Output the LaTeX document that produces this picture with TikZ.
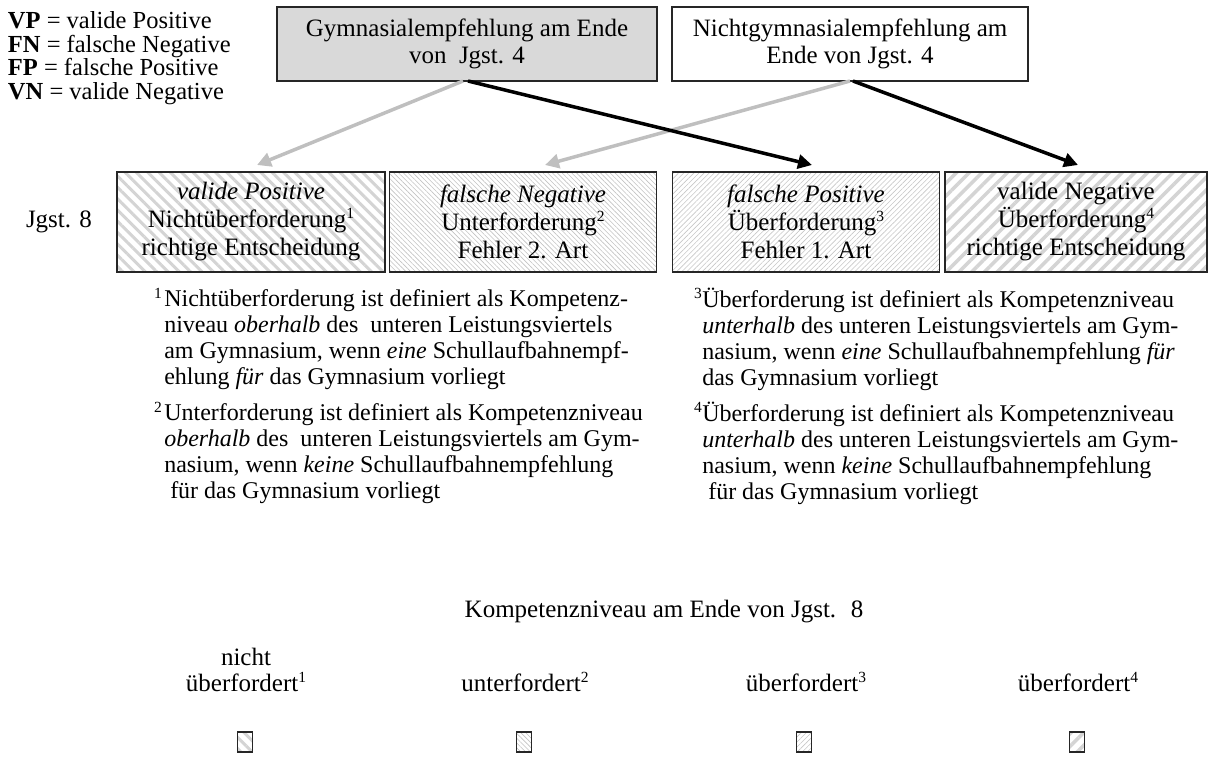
\documentclass[tikz,border=0pt]{standalone}
\usepackage{fontspec}
\setmainfont{Liberation Serif}
\usetikzlibrary{arrows.meta,patterns.meta}
\newcommand\supnum[1]{\raisebox{0.36em}{\fontsize{15.5}{15.5}\selectfont #1}}
\begin{document}
\begin{tikzpicture}[x=1pt,y=-1pt,
  every node/.style={font=\fontsize{25}{26}\selectfont, inner sep=0pt, outer sep=0pt},
  topbox/.style={draw=black!85, line width=1.2pt, minimum width=#1,
    minimum height=74pt, align=center, font=\fontsize{25}{27}\selectfont},
  outcome/.style={draw=black!85, line width=1.2pt, minimum width=#1,
    minimum height=100pt, align=center, font=\fontsize{25}{28}\selectfont},
  keybox/.style={draw=black!85, line width=1.1pt, minimum width=15pt, minimum height=20pt},
  widebk/.style={pattern={Lines[angle=-45,distance=8pt,line width=3pt]}, pattern color=black!17},
  finebk/.style={pattern={Lines[angle=-45,distance=3.4pt,line width=0.6pt]}, pattern color=black!24},
  finefw/.style={pattern={Lines[angle=45,distance=3.6pt,line width=0.6pt]}, pattern color=black!22},
  widefw/.style={pattern={Lines[angle=45,distance=9pt,line width=3.5pt]}, pattern color=black!17},
  greyarrow/.style={draw=black!25, line width=3.5pt, -{Triangle[length=14pt,width=14pt]}},
  blackarrow/.style={draw=black, line width=3.5pt, -{Triangle[length=14pt,width=14pt]}},
  note/.style={anchor=north west, align=left, font=\fontsize{24}{26}\selectfont}
]
\useasboundingbox (0,0) rectangle (1210,760);

% abbreviations
\node[anchor=north west, align=left, font=\fontsize{24.5}{23.5}\selectfont] (abbr) at (8,12)
  {\textbf{VP} = valide Positive\\
   \textbf{FN} = falsche Negative\\
   \textbf{FP} = falsche Positive\\
   \textbf{VN} = valide Negative};

% recommendations at the end of grade 4
\node[topbox=380pt, fill=black!15] (gym) at (467,44)
  {Gymnasialempfehlung am Ende\\von~ Jgst. 4};
\node[topbox=356pt] (ngym) at (850,44)
  {Nichtgymnasialempfehlung am\\Ende von Jgst. 4};

% outcomes in grade 8
\node (jg8) at (59,222) {Jgst. 8};
\node[outcome=268pt, widebk] (vp) at (251,222)
  {\textit{valide Positive}\\Nichtüberforderung\supnum{1}\\richtige Entscheidung};
\node[outcome=267pt, finebk] (fn) at (523,222)
  {\textit{falsche Negative}\\Unterforderung\supnum{2}\\Fehler 2. Art};
\node[outcome=267pt, finefw] (fp) at (806,222)
  {\textit{falsche Positive}\\Überforderung\supnum{3}\\Fehler 1. Art};
\node[outcome=262pt, widefw] (vn) at (1076,222)
  {valide Negative\\Überforderung\supnum{4}\\richtige Entscheidung};

% decisions
\draw[greyarrow] ([xshift=-4pt]gym.south) -- ([xshift=6pt,yshift=7pt]vp.north);
\draw[greyarrow] ([xshift=0pt]ngym.south) -- ([xshift=22pt,yshift=7pt]fn.north);
\draw[blackarrow] ([xshift=1pt]gym.south) -- ([xshift=6pt,yshift=7pt]fp.north);
\draw[blackarrow] ([xshift=3pt]ngym.south) -- ([xshift=2pt,yshift=7pt]vn.north);

% definitions
\node[note] (n1) at (154,288)
  {\begin{tabular}{@{}l@{\hspace{2.5pt}}l@{}}
   \supnum{1} & Nichtüberforderung ist definiert als Kompetenz-\\
    & niveau \textit{oberhalb} des~ unteren Leistungsviertels\\
    & am Gymnasium, wenn \textit{eine} Schullaufbahnempf-\\
    & ehlung \textit{für} das Gymnasium vorliegt
   \end{tabular}};
\node[note] (n2) at (154,402)
  {\begin{tabular}{@{}l@{\hspace{2.5pt}}l@{}}
   \supnum{2} & Unterforderung ist definiert als Kompetenzniveau\\
    & \textit{oberhalb} des~ unteren Leistungsviertels am Gym-\\
    & nasium, wenn \textit{keine} Schullaufbahnempfehlung\\
    & ~für das Gymnasium vorliegt
   \end{tabular}};
\node[note] (n3) at (694,288)
  {\begin{tabular}{@{}l@{\hspace{0.5pt}}l@{}}
   \supnum{3} & Überforderung ist definiert als Kompetenzniveau\\
    & \textit{unterhalb} des unteren Leistungsviertels am Gym-\\
    & nasium, wenn \textit{eine} Schullaufbahnempfehlung \textit{für}\\
    & das Gymnasium vorliegt
   \end{tabular}};
\node[note] (n4) at (694,402)
  {\begin{tabular}{@{}l@{\hspace{0.5pt}}l@{}}
   \supnum{4} & Überforderung ist definiert als Kompetenzniveau\\
    & \textit{unterhalb} des unteren Leistungsviertels am Gym-\\
    & nasium, wenn \textit{keine} Schullaufbahnempfehlung\\
    & ~für das Gymnasium vorliegt
   \end{tabular}};

% key for the competence level
\node (ktitle) at (664,612) {Kompetenzniveau am Ende von Jgst.~ 8};
\node[align=center, anchor=base] (lab1) at (246,691) {nicht\\überfordert\supnum{1}};
\node[anchor=base] (lab2) at (525,691) {unterfordert\supnum{2}};
\node[anchor=base] (lab3) at (806,691) {überfordert\supnum{3}};
\node[anchor=base] (lab4) at (1078,691) {überfordert\supnum{4}};
\node[keybox, widebk] (k1) at (245,742) {};
\node[keybox, finebk] (k2) at (524,742) {};
\node[keybox, finefw] (k3) at (804,742) {};
\node[keybox, widefw] (k4) at (1077,742) {};
\end{tikzpicture}
\end{document}
